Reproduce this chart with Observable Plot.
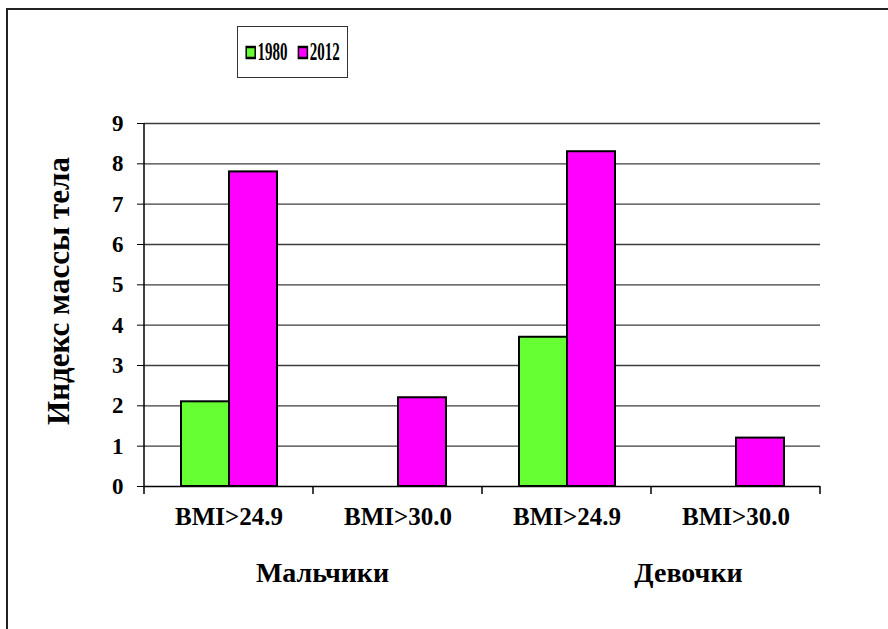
<!DOCTYPE html>
<html>
<head>
<meta charset="utf-8">
<script src="https://cdn.jsdelivr.net/npm/d3@7"></script>
<script src="https://cdn.jsdelivr.net/npm/@observablehq/plot@0.6"></script>
<style>
  html, body { margin: 0; padding: 0; background: #fff; }
  #page { position: relative; width: 888px; height: 629px; overflow: hidden; background: #fff; }
  #edge { position: absolute; left: 6px; top: 8px; width: 900px; height: 700px; border-left: 2px solid #222; border-top: 2px solid #222; }
  #chart { position: absolute; left: 0; top: 0; }
  #legend { position: absolute; left: 237px; top: 26px; width: 109px; height: 50px; border: 1.5px solid #333; background: #fff;
            display: flex; align-items: center; justify-content: center; }
  #legend .yr-swatches { font-family: "Liberation Serif", serif !important; font-weight: bold; font-size: 25px !important; color: #000;
            margin: 0; min-height: 0; transform: scaleX(0.6); transform-origin: center; white-space: nowrap; flex-wrap: nowrap; }
  #legend .yr-swatch { margin-right: 18px; font-family: "Liberation Serif", serif !important; }
  #legend .yr-swatch:last-child { margin-right: 0; }
  #legend .yr-swatch > svg { margin-right: 4px; }
  #legend .yr-swatch rect { stroke: #000; stroke-width: 2.5px; }
</style>
</head>
<body>
<div id="page">
  <div id="edge"></div>
  <div id="chart"></div>
  <div id="legend"></div>
</div>
<script>
// Body-mass-index prevalence by sex and threshold, 1980 vs 2012
const categories = ["BMI>24.9", "BMI>30.0", "BMI>24.9", "BMI>30.0"];
const groups = ["Мальчики", "Девочки"];
const years = ["1980", "2012"];
const values1980 = [2.1, null, 3.7, null];
const values2012 = [7.8, 2.2, 8.3, 1.2];
const yTicks = [0, 1, 2, 3, 4, 5, 6, 7, 8, 9];
const yTitle = "Индекс массы тела";
const colors = ["#66ff33", "#ff00ff"];

const serif = "Liberation Serif";

// one row per bar; slots index the four category columns
const rows = categories.flatMap((c, i) => [
  {slot: i, year: years[0], value: values1980[i]},
  {slot: i, year: years[1], value: values2012[i]}
]).filter(d => d.value != null);

const textStyle = {fontFamily: serif, fontWeight: "bold", fill: "#000"};

const chart = Plot.plot({
  width: 888,
  height: 629,
  marginLeft: 143,
  marginRight: 67,
  marginTop: 123,
  marginBottom: 143,
  style: {fontFamily: serif, fontWeight: "bold", color: "#000", background: "transparent", overflow: "visible"},
  fx: {domain: d3.range(categories.length), padding: 0, axis: null, label: null},
  x: {domain: years, paddingInner: 0, paddingOuter: 0.73, axis: null, label: null},
  y: {domain: [0, 9], axis: null, label: null},
  color: {domain: years, range: colors},
  marks: [
    Plot.gridY(yTicks.slice(1), {stroke: "#3c3c3c", strokeOpacity: 1, strokeWidth: 1.3}),
    Plot.axisY(yTicks, {tickSize: 7, tickPadding: 14, fontSize: 23, label: null, tickFormat: d3.format("d"), stroke: "#000", ...textStyle}),
    Plot.axisFx({anchor: "bottom", tickSize: 0, tickPadding: 21, fontSize: 25, label: null, tickFormat: i => categories[i], ...textStyle}),
    Plot.barY(rows, {fx: "slot", x: "year", y: "value", fill: "year", stroke: "#000", strokeWidth: 2}),
    Plot.ruleY([0], {stroke: "#000", strokeWidth: 1.5}),
    Plot.text([{slot: 1, label: groups[0]}], {fx: "slot", text: "label", frameAnchor: "bottom-left", textAnchor: "middle", lineAnchor: "middle", dx: 9, dy: 87, fontSize: 28, ...textStyle}),
    Plot.text([{slot: 3, label: groups[1]}], {fx: "slot", text: "label", frameAnchor: "bottom-left", textAnchor: "middle", lineAnchor: "middle", dx: 37, dy: 87, fontSize: 28, ...textStyle}),
    Plot.text([{slot: 0, label: yTitle}], {fx: "slot", text: "label", frameAnchor: "left", textAnchor: "middle", lineAnchor: "middle", rotate: -90, dx: -85, dy: -14, fontSize: 31, ...textStyle})
  ]
});

// make sure every label uses the serif face
d3.select(chart).selectAll("g, text")
  .attr("font-family", serif)
  .style("font-family", serif);

// left axis line and the boundary ticks between category columns
const fx = chart.scale("fx");
const y = chart.scale("y");
const edges = fx.domain.map(k => fx.apply(k));
edges.push(edges[edges.length - 1] + fx.bandwidth);
const deco = d3.select(chart).append("g").attr("stroke", "#000").attr("stroke-width", 1.5);
deco.append("line")
  .attr("x1", edges[0]).attr("x2", edges[0])
  .attr("y1", y.apply(9)).attr("y2", y.apply(0));
deco.selectAll("line.edge").data(edges).join("line").attr("class", "edge")
  .attr("x1", d => d).attr("x2", d => d)
  .attr("y1", y.apply(0)).attr("y2", y.apply(0) + 8);

document.getElementById("chart").appendChild(chart);

const legend = Plot.legend({color: {domain: years, range: colors}, swatchWidth: 15, swatchHeight: 11, className: "yr"});
legend.style.fontFamily = serif;
document.getElementById("legend").appendChild(legend);
</script>
</body>
</html>
